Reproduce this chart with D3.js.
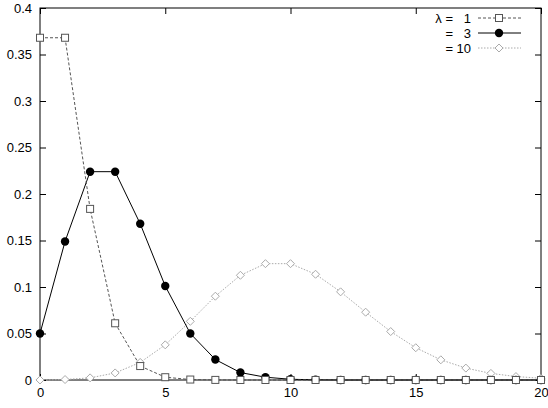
<!DOCTYPE html>
<html><head><meta charset="utf-8">
<script src="https://d3js.org/d3.v7.min.js"></script>
<style>body{margin:0;background:#fff}text{font-family:"Liberation Sans",Arial,sans-serif;font-size:13px}</style>
</head><body><svg id="c" width="548" height="408"></svg>
<script>
const ks = d3.range(0, 21);
const lam1 = [0.368,0.368,0.184,0.061,0.015,0.003,0.0005,0.0001,0,0,0,0,0,0,0,0,0,0,0,0,0];
const lam3 = [0.050,0.149,0.224,0.224,0.168,0.101,0.050,0.022,0.008,0.003,0.0008,0.0002,0,0,0,0,0,0,0,0,0];
const lam10 = [0.00005,0.0005,0.0023,0.0076,0.0189,0.0378,0.0631,0.0901,0.1126,0.1251,0.1251,0.1137,0.0948,0.0729,0.0521,0.0347,0.0217,0.0128,0.0071,0.0037,0.0019];
const xTicks = [0,5,10,15,20];
const yTicks = [0,0.05,0.1,0.15,0.2,0.25,0.3,0.35,0.4];

const svg = d3.select("#c");
const x = d3.scaleLinear().domain([0,20]).range([40,541]);
const y = d3.scaleLinear().domain([0,0.4]).range([380,8]);

// frame
svg.append("rect").attr("x",40).attr("y",8).attr("width",501).attr("height",372)
  .attr("fill","none").attr("stroke","#000");

svg.append("g").attr("transform","translate(0,380)")
  .call(d3.axisBottom(x).tickValues(xTicks).tickSize(-6).tickPadding(8));
svg.append("g").attr("transform","translate(0,8)")
  .call(d3.axisTop(x).tickValues(xTicks).tickSize(-6).tickFormat(""));
svg.append("g").attr("transform","translate(40,0)")
  .call(d3.axisLeft(y).tickValues(yTicks).tickSize(-6).tickPadding(8).tickFormat(d3.format("")));
svg.append("g").attr("transform","translate(541,0)")
  .call(d3.axisRight(y).tickValues(yTicks).tickSize(-6).tickFormat(""));
svg.selectAll(".domain").remove();
svg.selectAll(".tick text").attr("fill","#000").style("font-size","13px");

const line = d3.line().x((d,i)=>x(i)).y(d=>y(d));
const series = [
  {v:lam1, col:"#555", dash:"3,2", mark:"sq"},
  {v:lam3, col:"#000", dash:null, mark:"dot"},
  {v:lam10, col:"#aaa", dash:"1.5,1.5", mark:"dia"}
];
function marker(g, m, cx, cy, col){
  if(m==="sq") g.append("rect").attr("x",cx-3.5).attr("y",cy-3.5).attr("width",7).attr("height",7).attr("fill","#fff").attr("stroke",col);
  else if(m==="dot") g.append("circle").attr("cx",cx).attr("cy",cy).attr("r",4.2).attr("fill","#000");
  else g.append("path").attr("d",`M${cx},${cy-4}L${cx+4},${cy}L${cx},${cy+4}L${cx-4},${cy}Z`).attr("fill","#fff").attr("stroke",col);
}
series.slice().reverse().forEach(s=>{
  svg.append("path").datum(s.v).attr("d",line).attr("fill","none")
    .attr("stroke",s.col).attr("stroke-width",1).attr("stroke-dasharray",s.dash);
  const g = svg.append("g");
  s.v.forEach((d,i)=>marker(g,s.mark,x(i),y(d),s.col));
});

// legend
const legEq = ["λ =","=","="];
const legVal = ["1","3","10"];
series.forEach((s,i)=>{
  const ly = 18 + i*15;
  svg.append("text").attr("x",453).attr("y",ly+5).attr("text-anchor","end").text(legEq[i]);
  svg.append("text").attr("x",471).attr("y",ly+5).attr("text-anchor","end").text(legVal[i]);
  svg.append("line").attr("x1",478).attr("x2",521).attr("y1",ly).attr("y2",ly)
    .attr("stroke",s.col).attr("stroke-dasharray",s.dash);
  marker(svg,s.mark,499,ly,s.col);
});
</script></body></html>
